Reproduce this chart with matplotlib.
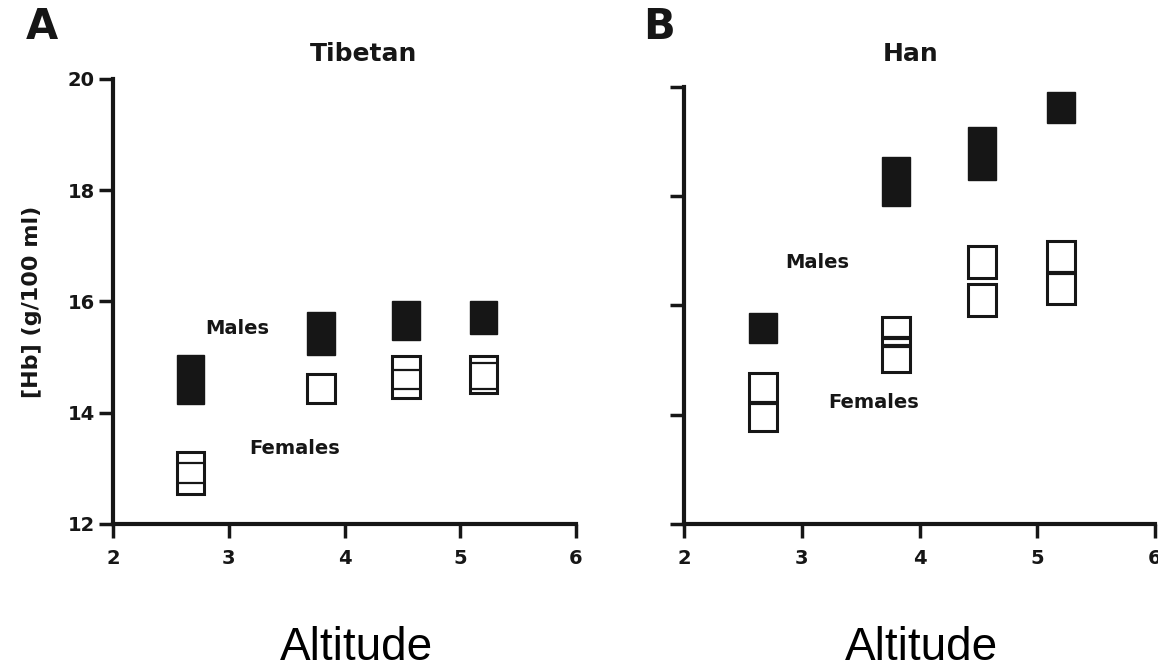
import matplotlib
matplotlib.use('Agg')
from matplotlib import pyplot as plt
import numpy as np

# altitude of the four sampling sites (km)
altitude = [2.67, 3.80, 4.53, 5.20]

# Tibetan: box limits, [Hb] g/100 ml
tibetan_male_lo = [14.16, 15.04, 15.31, 15.41]
tibetan_male_hi = [15.03, 15.81, 16.00, 16.00]
tibetan_female_lo = [12.54, 14.17, 14.26, 14.35]
tibetan_female_hi = [13.29, 14.70, 15.02, 15.02]
tibetan_line_x = [2.67, 2.67, 4.53, 4.53, 5.20, 5.20]
tibetan_line_y = [13.10, 12.73, 14.77, 14.43, 14.90, 14.42]

# Han: box limits, [Hb] g/100 ml
han_male_lo = [15.32, 17.82, 18.30, 19.34]
han_male_hi = [15.87, 18.71, 19.27, 19.90]
han_female_x = [2.67, 3.80, 4.53, 4.53, 5.20]
han_female_lo = [13.71, 14.79, 15.80, 16.50, 16.03]
han_female_hi = [14.76, 15.78, 16.39, 17.09, 17.18]
han_line_x = [2.67, 3.80, 3.80, 5.20]
han_line_y = [14.22, 15.40, 15.25, 16.59]

x_ticks = [2, 3, 4, 5, 6]
y_ticks = [12, 14, 16, 18, 20]

INK = '#161616'
BOX_W = 0.24
BOLD = {'family': 'DejaVu Sans', 'weight': 'bold'}


def draw_panel(ax, male_lo, male_hi, fem_x, fem_lo, fem_hi, line_x, line_y, line_w, show_y):
    male_lo = np.asarray(male_lo)
    male_hi = np.asarray(male_hi)
    ax.bar(altitude, male_hi - male_lo, bottom=male_lo, width=BOX_W,
           color=INK, edgecolor=INK, linewidth=1, zorder=3)
    fem_lo = np.asarray(fem_lo)
    fem_hi = np.asarray(fem_hi)
    ax.bar(fem_x, fem_hi - fem_lo, bottom=fem_lo, width=BOX_W,
           facecolor='white', edgecolor=INK, linewidth=2.2, zorder=3)
    lx = np.asarray(line_x)
    ax.hlines(line_y, lx - BOX_W / 2, lx + BOX_W / 2, color=INK,
              linewidth=line_w, zorder=4)

    ax.set_xlim(2, 6)
    ax.set_ylim(12, 20)
    ax.set_xticks(x_ticks)
    ax.set_yticks(y_ticks)
    ax.set_xticklabels([str(t) for t in x_ticks], fontdict=BOLD, fontsize=14)
    if show_y:
        ax.set_yticklabels([str(t) for t in y_ticks], fontdict=BOLD, fontsize=14)
    else:
        ax.set_yticklabels([])
    for side in ('top', 'right'):
        ax.spines[side].set_visible(False)
    for side in ('left', 'bottom'):
        ax.spines[side].set_linewidth(3)
        ax.spines[side].set_color(INK)
    ax.tick_params(axis='x', length=10, width=2.5, pad=8, colors=INK)
    ax.tick_params(axis='y', length=10, width=2.5, pad=3, colors=INK)
    ax.set_facecolor('none')


fig = plt.figure(figsize=(11.58, 6.71), dpi=100)
ax_a = fig.add_axes([0.0976, 0.2191, 0.3998, 0.6632])
ax_b = fig.add_axes([0.5907, 0.2191, 0.4067, 0.6513])

draw_panel(ax_a, tibetan_male_lo, tibetan_male_hi, altitude,
           tibetan_female_lo, tibetan_female_hi, tibetan_line_x, tibetan_line_y,
           1.6, True)
draw_panel(ax_b, han_male_lo, han_male_hi, han_female_x,
           han_female_lo, han_female_hi, han_line_x, han_line_y,
           3.0, False)

ax_a.text(3.076, 15.51, 'Males', fontdict=BOLD, fontsize=14, color=INK,
          ha='center', va='center')
ax_a.text(3.57, 13.35, 'Females', fontdict=BOLD, fontsize=14, color=INK,
          ha='center', va='center')
ax_b.text(3.13, 16.78, 'Males', fontdict=BOLD, fontsize=14, color=INK,
          ha='center', va='center')
ax_b.text(3.61, 14.22, 'Females', fontdict=BOLD, fontsize=14, color=INK,
          ha='center', va='center')

ax_a.set_ylabel('[Hb] (g/100 ml)', fontdict=BOLD, fontsize=16, color=INK)
ax_a.yaxis.set_label_coords(-0.154, 0.5)

# panel titles and letters
fig.text(364 / 1158, 1 - 54 / 671, 'Tibetan', fontdict=BOLD, fontsize=18,
         color=INK, ha='center', va='center')
fig.text(911 / 1158, 1 - 54 / 671, 'Han', fontdict=BOLD, fontsize=18,
         color=INK, ha='center', va='center')
fig.text(42 / 1158, 1 - 27 / 671, 'A', fontdict=BOLD, fontsize=30,
         color=INK, ha='center', va='center')
fig.text(659 / 1158, 1 - 27 / 671, 'B', fontdict=BOLD, fontsize=30,
         color=INK, ha='center', va='center')

for cx in (356, 921):
    fig.text(cx / 1158, 1 - 660 / 671, 'Altitude', family='Liberation Sans',
             fontsize=33, color='black', ha='center', va='baseline')

fig.savefig('out.png', dpi=100)
